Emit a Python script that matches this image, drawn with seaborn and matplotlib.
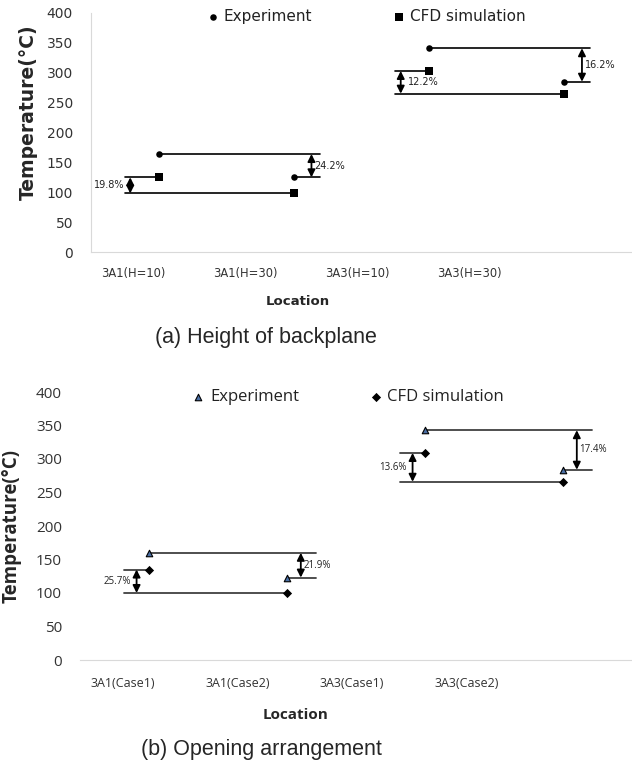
import numpy as np
import pandas as pd
import matplotlib.pyplot as plt
import seaborn as sns

sns.set_style("white")
plt.rcParams['font.family'] = ['DejaVu Sans']

# (a) height of backplane
loc_a = ['3A1(H=10)', '3A1(H=30)', '3A3(H=10)', '3A3(H=30)']
exp_a = [164, 125, 341, 285]
cfd_a = [125, 98, 303, 265]
pct_a = ['19.8%', '24.2%', '12.2%', '16.2%']

# (b) opening arrangement
loc_b = ['3A1(Case1)', '3A1(Case2)', '3A3(Case1)', '3A3(Case2)']
exp_b = [160, 123, 343, 284]
cfd_b = [135, 100, 309, 266]
pct_b = ['25.7%', '21.9%', '13.6%', '17.4%']

yticks = list(range(0, 401, 50))
tick_pos = [-0.19, 0.64, 1.47, 2.30]  # labels sit left of the markers in the original


def draw_panel(ax, locs, exp, cfd, pct, st):
    df = pd.DataFrame({'pos': np.arange(len(locs)), 'Experiment': exp, 'CFD simulation': cfd})
    sns.scatterplot(data=df, x='pos', y='Experiment', marker=st['m_exp'], s=st['s_exp'],
                    color=st['c_exp'], edgecolor='black', linewidth=st['ew_exp'],
                    label='Experiment', ax=ax, zorder=3)
    sns.scatterplot(data=df, x='pos', y='CFD simulation', marker=st['m_cfd'], s=st['s_cfd'],
                    color='black', edgecolor='black', linewidth=0,
                    label='CFD simulation', ax=ax, zorder=3)

    lc = st['line_color']
    arrow = dict(arrowstyle='<|-|>', color='black', lw=1.3,
                 mutation_scale=11, shrinkA=0, shrinkB=0)
    for g in (0, 2):
        a, b = g, g + 1
        # CFD comparison, on the left side
        x0 = a + st['left_off']
        ax.plot([x0, a], [cfd[a], cfd[a]], color=lc, lw=st['lw'], zorder=2)
        ax.plot([x0, b], [cfd[b], cfd[b]], color=lc, lw=st['lw'], zorder=2)
        xa = a + st['arrow_left']
        ax.annotate('', xy=(xa, cfd[b]), xytext=(xa, cfd[a]), arrowprops=arrow)
        side = st['left_sides'][g // 2]
        dx = -0.04 if side == 'left' else 0.05
        ax.text(xa + dx, (cfd[a] + cfd[b]) / 2, pct[g], fontsize=7, color='#222222',
                ha='right' if side == 'left' else 'left', va='center', family=st['font'])
        # experiment comparison, on the right side
        x1 = b + st['right_off']
        ax.plot([a, x1], [exp[a], exp[a]], color=lc, lw=st['lw'], zorder=2)
        ax.plot([b, x1], [exp[b], exp[b]], color=lc, lw=st['lw'], zorder=2)
        xb = b + st['arrow_right']
        ax.annotate('', xy=(xb, exp[b]), xytext=(xb, exp[a]), arrowprops=arrow)
        ax.text(xb + 0.02, (exp[a] + exp[b]) / 2, pct[g + 1], fontsize=7, color='#222222',
                ha='left', va='center', family=st['font'])

    ax.set_xlim(-0.5, 3.5)
    ax.set_ylim(0, 400)
    ax.set_yticks(yticks)
    ax.set_yticklabels([str(v) for v in yticks], fontsize=st['ytick_fs'], family=st['font'])
    ax.set_xticks(tick_pos)
    ax.set_xticklabels(locs, fontsize=st['xtick_fs'], family=st['font'])
    ax.tick_params(axis='x', length=0, pad=st['xpad'], colors='#333333')
    ax.tick_params(axis='y', length=0, pad=st['ypad'], colors='#333333')
    for sp in ax.spines.values():
        sp.set_visible(False)
    ax.spines['bottom'].set_visible(True)
    ax.spines['bottom'].set_color('#d9d9d9')
    if st['left_spine']:
        ax.spines['left'].set_visible(True)
        ax.spines['left'].set_color('#d9d9d9')

    ax.set_xlabel('Location', fontsize=st['xl_fs'], fontweight='bold', va='center', family=st['font'])
    ax.xaxis.set_label_coords(*st['xl_xy'])
    ax.set_ylabel('Temperature(°C)', fontsize=st['yl_fs'], fontweight='bold', va='center',
                  family=st['font'])
    ax.yaxis.set_label_coords(*st['yl_xy'])

    leg = ax.legend(ncol=2, loc='center', bbox_to_anchor=st['leg_xy'], frameon=False,
                    handlelength=0.6, handletextpad=0.4, columnspacing=st['colsp'],
                    prop={'family': st['font'], 'size': st['leg_fs']})
    for t in leg.get_texts():
        t.set_color('#222222')


fig = plt.figure(figsize=(6.32, 7.71), dpi=100)
ax_a = fig.add_axes([91 / 632, 519 / 771, 541 / 632, 239 / 771])
ax_b = fig.add_axes([80 / 632, 111 / 771, 552 / 632, 268 / 771])

style_a = dict(m_exp='o', s_exp=22, c_exp='black', ew_exp=0, m_cfd='s', s_cfd=30,
               line_color='black', lw=1.2, left_off=-0.25, arrow_left=-0.21,
               right_off=0.19, arrow_right=0.13, left_sides=['left', 'right'],
               font='DejaVu Sans', ytick_fs=10, xtick_fs=8.3, xpad=11, ypad=13,
               left_spine=True, xl_fs=9.5, xl_xy=(0.383, -0.209), yl_fs=13.5,
               yl_xy=(-0.116, 0.585), leg_xy=(0.51, 0.985), colsp=5.4, leg_fs=11)
style_b = dict(m_exp='^', s_exp=22, c_exp='#4a6fa5', ew_exp=0.8, m_cfd='D', s_cfd=22,
               line_color='#404040', lw=1.3, left_off=-0.18, arrow_left=-0.09,
               right_off=0.21, arrow_right=0.10, left_sides=['left', 'left'],
               font='Open Sans', ytick_fs=11, xtick_fs=9, xpad=12, ypad=13,
               left_spine=False, xl_fs=11, xl_xy=(0.391, -0.205), yl_fs=13.5,
               yl_xy=(-0.124, 0.5), leg_xy=(0.487, 0.98), colsp=4.3, leg_fs=12)

draw_panel(ax_a, loc_a, exp_a, cfd_a, pct_a, style_a)
draw_panel(ax_b, loc_b, exp_b, cfd_b, pct_b, style_b)

fig.text(266 / 632, 1 - 338 / 771, '(a) Height of backplane', fontsize=15.5,
         family='Liberation Sans', ha='center', va='center')
fig.text(261 / 632, 1 - 750 / 771, '(b) Opening arrangement', fontsize=15.5,
         family='Liberation Sans', ha='center', va='center')

fig.savefig('out.png', dpi=100)
